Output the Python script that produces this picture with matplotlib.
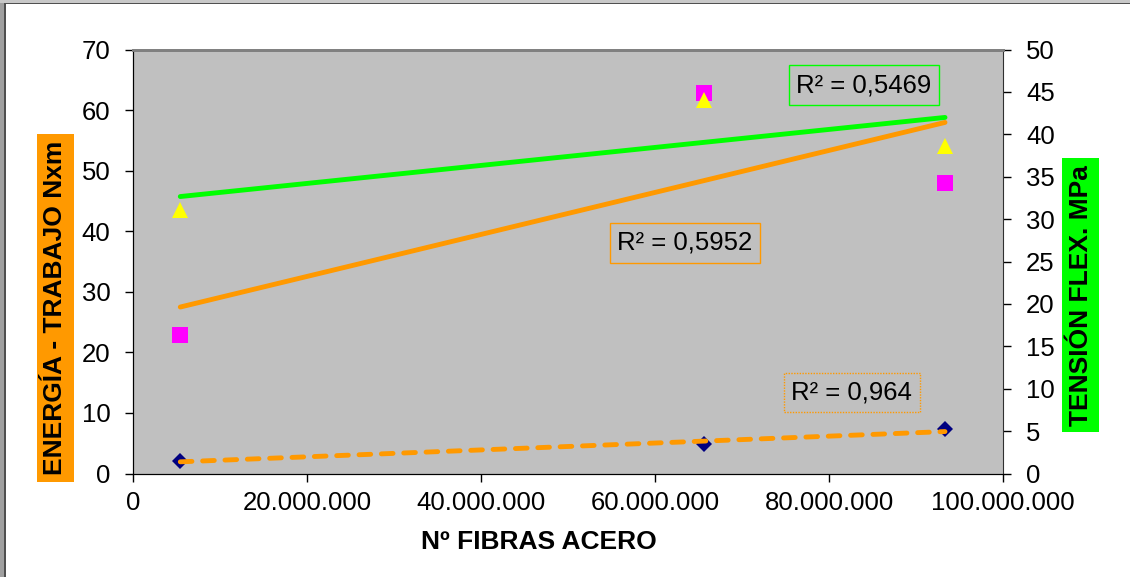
import numpy as np
import matplotlib
matplotlib.use("Agg")
import matplotlib.pyplot as plt
from matplotlib.ticker import FuncFormatter, MultipleLocator
from matplotlib.patches import Rectangle

plt.rcParams['font.family'] = ['Liberation Sans', 'DejaVu Sans']

# ---------- datos ----------
fibras = [5.4e6, 65.6e6, 93.3e6]          # nº fibras acero
energia = [2.1, 4.8, 7.3]                 # eje izq. (rombos)
trabajo = [22.9, 62.9, 48.0]              # eje izq. (cuadrados)
tension = [31.1, 44.0, 38.6]              # eje der. MPa (triángulos)

r2_labels = ["R² = 0,964", "R² = 0,5952", "R² = 0,5469"]

NAVY = '#000080'
MAGENTA = '#ff00ff'
YELLOW = '#ffff00'
ORANGE = '#ff9900'
GREEN = '#00ff00'
PLOT_BG = '#c0c0c0'
FS = 18.5

W, H = 1130, 577
fig = plt.figure(figsize=(W / 100, H / 100), dpi=100)
ax = fig.add_axes([133.3 / W, (H - 473.5) / H, 870 / W, 424 / H])
ax.set_facecolor(PLOT_BG)
ax2 = ax.twinx()


def tendencia(x, y):
    """recta de mínimos cuadrados entre el primer y el último punto"""
    k, b = np.polyfit(x, y, 1)
    xs = np.array([min(x), max(x)])
    return xs, k * xs + b


# puntos
ax.plot(fibras, energia, 'D', color=NAVY, ms=8.5, mew=0, zorder=3)
ax.plot(fibras, trabajo, 's', color=MAGENTA, ms=11, mew=0, zorder=3)
ax2.plot(fibras, tension, '^', color=YELLOW, ms=11, mew=0, zorder=3)

# líneas de tendencia
xs, ys = tendencia(fibras, energia)
ax.plot(xs, ys, color=ORANGE, lw=3.5, ls=(0, (2.4, 2.2)),
        dash_capstyle='round', zorder=4)
xs, ys = tendencia(fibras, trabajo)
ax.plot(xs, ys, color=ORANGE, lw=3.5, solid_capstyle='round', zorder=4)
xs, ys = tendencia(fibras, tension)
ax2.plot(xs, ys, color=GREEN, lw=3.5, solid_capstyle='round', zorder=4)

# ejes
ax.set_xlim(0, 100e6)
ax.set_ylim(0, 70)
ax2.set_ylim(0, 50)
ax.xaxis.set_major_locator(MultipleLocator(20e6))
ax.yaxis.set_major_locator(MultipleLocator(10))
ax2.yaxis.set_major_locator(MultipleLocator(5))
ax.xaxis.set_major_formatter(FuncFormatter(lambda v, p: f"{v:,.0f}".replace(',', '.')))

ax.tick_params(axis='x', direction='out', length=5.5, width=1, pad=7, labelsize=FS)
ax.tick_params(axis='y', direction='out', length=5.5, width=1, pad=11, labelsize=FS)
ax2.tick_params(axis='y', direction='out', length=5.5, width=1, pad=11, labelsize=FS)

for a in (ax, ax2):
    a.spines['top'].set_color('#808080')
    a.spines['top'].set_linewidth(2)
    a.spines['left'].set_color('black')
    a.spines['bottom'].set_color('black')
ax.spines['right'].set_visible(False)
ax2.spines['right'].set_color('#303030')

# etiquetas R²
cajas = [
    (0.826, 0.191, r2_labels[0], ORANGE, (0, (1, 1))),
    (0.634, 0.544, r2_labels[1], ORANGE, '-'),
    (0.840, 0.916, r2_labels[2], GREEN, '-'),
]
for x, y, txt, col, ls in cajas:
    ax2.text(x, y, txt, transform=ax.transAxes, ha='center', va='center',
             fontsize=FS, zorder=6,
             bbox=dict(boxstyle='square,pad=0.3', fc=PLOT_BG, ec=col, lw=1, ls=ls))

# títulos de ejes
fig.text(55.5 / W, (H - 308) / H, "ENERGÍA - TRABAJO Nxm", rotation=90,
         ha='center', va='center', fontsize=19, fontweight='bold',
         bbox=dict(boxstyle='square,pad=0.25', fc=ORANGE, ec='none'))
fig.text(1080.5 / W, (H - 295.4) / H, "TENSIÓN FLEX. MPa", rotation=90,
         ha='center', va='center', fontsize=19, fontweight='bold',
         bbox=dict(boxstyle='square,pad=0.25', fc=GREEN, ec='none'))
fig.text(538.7 / W, (H - 542) / H, "Nº FIBRAS ACERO", ha='center', va='center',
         fontsize=19, fontweight='bold')

# marco de la ventana
fig.add_artist(Rectangle((0, 0), 4 / W, 1, transform=fig.transFigure,
                         fc='#a0a0a0', ec='none'))
fig.add_artist(Rectangle((4 / W, 0), 1.5 / W, 1, transform=fig.transFigure,
                         fc='#505050', ec='none'))
fig.add_artist(Rectangle((0, 1 - 3 / H), 1, 3 / H, transform=fig.transFigure,
                         fc='#c8c8c8', ec='none'))
fig.add_artist(Rectangle((4 / W, 1 - 4.2 / H), 1, 1.2 / H, transform=fig.transFigure,
                         fc='#505050', ec='none'))

fig.savefig("out.png", dpi=100)
